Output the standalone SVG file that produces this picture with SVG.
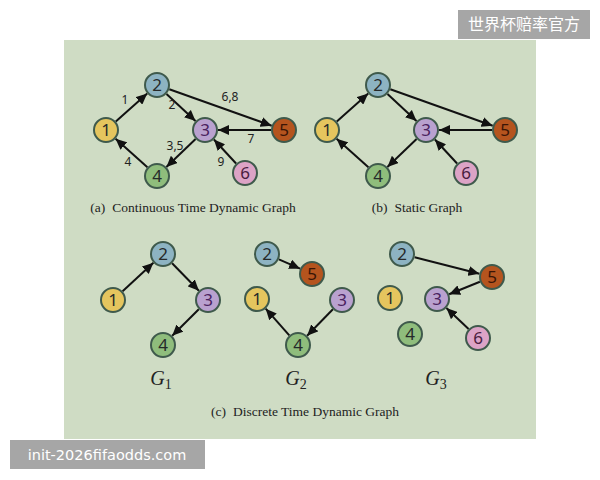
<svg xmlns="http://www.w3.org/2000/svg" width="600" height="480" viewBox="0 0 600 480">
<defs>
<marker id="ah" markerUnits="userSpaceOnUse" markerWidth="12" markerHeight="10" refX="11" refY="5" orient="auto">
<path d="M0,0 L11,5 L0,10 Z" fill="#111"/>
</marker>
<style>
.e{stroke:#111;stroke-width:2;fill:none;marker-end:url(#ah)}
.n circle{stroke:#3f5a4c;stroke-width:2}
.n text{font-family:"Noto Sans","Open Sans",sans-serif;font-size:17px;text-anchor:middle;fill:#262a2a}
.c1{fill:#e5c55e}.c2{fill:#8db3c2}.c3{fill:#b9a1cf}.c4{fill:#8fbd7c}.c5{fill:#b5541e}.c6{fill:#dca3c6}
.t3{fill:#4a2260 !important}.t5{fill:#3a1506 !important}.t6{fill:#4a2040 !important}
.lb{font-family:"Noto Sans","Open Sans",sans-serif;font-size:12px;fill:#222;text-anchor:middle}
.cap{font-family:"Liberation Serif",serif;font-size:13.5px;fill:#222;text-anchor:middle}
.g{font-family:"Liberation Serif",serif;font-style:italic;font-size:20px;fill:#222;text-anchor:middle}
.wm{font-family:"Noto Sans CJK SC","Noto Sans",sans-serif;font-size:16px;fill:#fff}
.wm2{font-family:"DejaVu Sans","Liberation Sans",sans-serif;font-size:14.5px;fill:#fff}
</style>
</defs>
<rect width="600" height="480" fill="#fff"/>
<rect x="64" y="40" width="472" height="399" fill="#cfdcc4"/>

<g id="connectors">
<!-- (a) -->
<line class="e" x1="115.8" y1="121.4" x2="147.2" y2="93.6"/>
<line class="e" x1="166.5" y1="93.9" x2="195.5" y2="121.1"/>
<line class="e" x1="169.3" y1="89.3" x2="271.7" y2="125.7"/>
<line class="e" x1="271" y1="130" x2="218" y2="130"/>
<line class="e" x1="195.6" y1="139" x2="166.4" y2="167"/>
<line class="e" x1="147.4" y1="167.3" x2="115.6" y2="138.7"/>
<line class="e" x1="236.1" y1="163.5" x2="213.9" y2="139.5"/>
<!-- (b) -->
<line class="e" x1="336.8" y1="121.4" x2="368.2" y2="93.6"/>
<line class="e" x1="387.5" y1="93.9" x2="416.5" y2="121.1"/>
<line class="e" x1="390.3" y1="89.3" x2="492.7" y2="125.7"/>
<line class="e" x1="492" y1="130" x2="439" y2="130"/>
<line class="e" x1="416.6" y1="139" x2="387.4" y2="167"/>
<line class="e" x1="368.4" y1="167.3" x2="336.6" y2="138.7"/>
<line class="e" x1="457.1" y1="163.5" x2="434.9" y2="139.5"/>
<!-- G1 -->
<line class="e" x1="122.6" y1="291.2" x2="153.4" y2="262.8"/>
<line class="e" x1="172.1" y1="263.3" x2="198.9" y2="290.7"/>
<line class="e" x1="198.8" y1="309.2" x2="172.2" y2="335.8"/>
<!-- G2 -->
<line class="e" x1="278.9" y1="259.3" x2="300.1" y2="268.7"/>
<line class="e" x1="289.3" y1="335.3" x2="265.7" y2="308.7"/>
<line class="e" x1="332.9" y1="309.3" x2="307.1" y2="335.7"/>
<!-- G3 -->
<line class="e" x1="414.6" y1="257.2" x2="479.4" y2="273.8"/>
<line class="e" x1="479.9" y1="281.8" x2="449.1" y2="294.2"/>
<line class="e" x1="468.6" y1="329" x2="446.4" y2="308"/>
</g>

<g id="edge-labels">
<text class="lb" x="125" y="104">1</text>
<text class="lb" x="172" y="109">2</text>
<text class="lb" x="230" y="101">6,8</text>
<text class="lb" x="251" y="143">7</text>
<text class="lb" x="175" y="150">3,5</text>
<text class="lb" x="128" y="166">4</text>
<text class="lb" x="221" y="166">9</text>
</g>

<!-- (a) nodes -->
<g id="a1" class="n"><circle class="c1" cx="106" cy="130" r="12"/><text x="106" y="130" dy="0.36em">1</text></g>
<g id="a2" class="n"><circle class="c2" cx="157" cy="85" r="12"/><text x="157" y="85" dy="0.36em">2</text></g>
<g id="a3" class="n"><circle class="c3" cx="205" cy="130" r="12"/><text class="t3" x="205" y="130" dy="0.36em">3</text></g>
<g id="a4" class="n"><circle class="c4" cx="157" cy="176" r="12"/><text x="157" y="176" dy="0.36em">4</text></g>
<g id="a5" class="n"><circle class="c5" cx="284" cy="130" r="12"/><text class="t5" x="284" y="130" dy="0.36em">5</text></g>
<g id="a6" class="n"><circle class="c6" cx="245" cy="173" r="12"/><text class="t6" x="245" y="173" dy="0.36em">6</text></g>

<!-- (b) nodes -->
<g id="b1" class="n"><circle class="c1" cx="327" cy="130" r="12"/><text x="327" y="130" dy="0.36em">1</text></g>
<g id="b2" class="n"><circle class="c2" cx="378" cy="85" r="12"/><text x="378" y="85" dy="0.36em">2</text></g>
<g id="b3" class="n"><circle class="c3" cx="426" cy="130" r="12"/><text class="t3" x="426" y="130" dy="0.36em">3</text></g>
<g id="b4" class="n"><circle class="c4" cx="378" cy="176" r="12"/><text x="378" y="176" dy="0.36em">4</text></g>
<g id="b5" class="n"><circle class="c5" cx="505" cy="130" r="12"/><text class="t5" x="505" y="130" dy="0.36em">5</text></g>
<g id="b6" class="n"><circle class="c6" cx="466" cy="173" r="12"/><text class="t6" x="466" y="173" dy="0.36em">6</text></g>

<!-- G1 nodes -->
<g id="g1n1" class="n"><circle class="c1" cx="113" cy="300" r="12"/><text x="113" y="300" dy="0.36em">1</text></g>
<g id="g1n2" class="n"><circle class="c2" cx="163" cy="254" r="12"/><text x="163" y="254" dy="0.36em">2</text></g>
<g id="g1n3" class="n"><circle class="c3" cx="208" cy="300" r="12"/><text class="t3" x="208" y="300" dy="0.36em">3</text></g>
<g id="g1n4" class="n"><circle class="c4" cx="163" cy="345" r="12"/><text x="163" y="345" dy="0.36em">4</text></g>

<!-- G2 nodes -->
<g id="g2n1" class="n"><circle class="c1" cx="257" cy="299" r="12"/><text x="257" y="299" dy="0.36em">1</text></g>
<g id="g2n2" class="n"><circle class="c2" cx="267" cy="254" r="12"/><text x="267" y="254" dy="0.36em">2</text></g>
<g id="g2n3" class="n"><circle class="c3" cx="342" cy="300" r="12"/><text class="t3" x="342" y="300" dy="0.36em">3</text></g>
<g id="g2n4" class="n"><circle class="c4" cx="298" cy="345" r="12"/><text x="298" y="345" dy="0.36em">4</text></g>
<g id="g2n5" class="n"><circle class="c5" cx="312" cy="274" r="12"/><text class="t5" x="312" y="274" dy="0.36em">5</text></g>

<!-- G3 nodes -->
<g id="g3n1" class="n"><circle class="c1" cx="390" cy="298" r="12"/><text x="390" y="298" dy="0.36em">1</text></g>
<g id="g3n2" class="n"><circle class="c2" cx="402" cy="254" r="12"/><text x="402" y="254" dy="0.36em">2</text></g>
<g id="g3n3" class="n"><circle class="c3" cx="437" cy="299" r="12"/><text class="t3" x="437" y="299" dy="0.36em">3</text></g>
<g id="g3n4" class="n"><circle class="c4" cx="410" cy="334" r="12"/><text x="410" y="334" dy="0.36em">4</text></g>
<g id="g3n5" class="n"><circle class="c5" cx="492" cy="277" r="12"/><text class="t5" x="492" y="277" dy="0.36em">5</text></g>
<g id="g3n6" class="n"><circle class="c6" cx="478" cy="338" r="12"/><text class="t6" x="478" y="338" dy="0.36em">6</text></g>

<g id="captions">
<text class="cap" x="193" y="212">(a)<tspan dx="7">Continuous Time Dynamic Graph</tspan></text>
<text class="cap" x="417" y="212">(b)<tspan dx="7">Static Graph</tspan></text>
<text class="cap" x="305" y="416">(c)<tspan dx="7">Discrete Time Dynamic Graph</tspan></text>
<text class="g" x="161" y="385">G<tspan font-style="normal" font-size="14" dy="4">1</tspan></text>
<text class="g" x="296" y="385">G<tspan font-style="normal" font-size="14" dy="4">2</tspan></text>
<text class="g" x="436" y="385">G<tspan font-style="normal" font-size="14" dy="4">3</tspan></text>
</g>

<g id="watermarks">
<rect x="458" y="10" width="132" height="29" fill="#a6a6a6"/>
<text class="wm" x="524" y="30" text-anchor="middle">世界杯赔率官方</text>
<rect x="10" y="440" width="195" height="29" fill="#a6a6a6"/>
<text class="wm2" x="107" y="460" text-anchor="middle">init-2026fifaodds.com</text>
</g>
</svg>
